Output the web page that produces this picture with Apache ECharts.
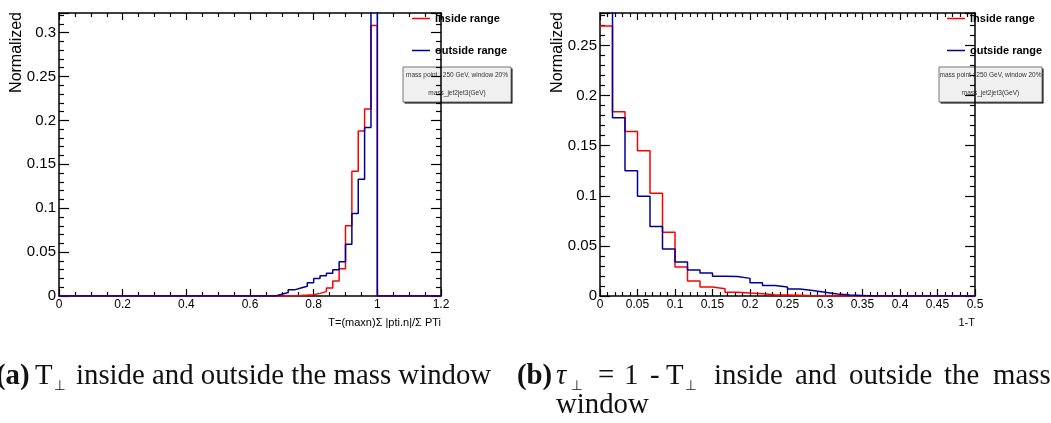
<!DOCTYPE html>
<html>
<head>
<meta charset="utf-8">
<script src="https://cdn.jsdelivr.net/npm/echarts@6/dist/echarts.min.js"></script>
<style>
  html, body { margin: 0; padding: 0; background: #fff; }
  #chart { width: 1051px; height: 423px; }
</style>
</head>
<body>
<div id="chart"></div>
<script>
// (a) T, 60 bins of 0.02 from 0 to 1.2
const binWidthA = 0.02;
const tInside = [
  0, 0, 0, 0, 0, 0, 0, 0, 0, 0,
  0, 0, 0, 0, 0, 0, 0, 0, 0, 0,
  0, 0, 0, 0, 0, 0, 0, 0, 0, 0,
  0, 0, 0, 0, 0, 0, 0.0003, 0.0006, 0.001, 0.0015,
  0.003, 0.005, 0.009, 0.017, 0.031, 0.080, 0.142, 0.188, 0.213, 0.308,
  0, 0, 0, 0, 0, 0, 0, 0, 0, 0
];
const tOutside = [
  0, 0, 0, 0, 0, 0, 0, 0, 0, 0,
  0, 0, 0, 0, 0, 0, 0, 0, 0, 0,
  0, 0, 0, 0, 0, 0, 0, 0, 0, 0,
  0, 0, 0, 0, 0.002, 0.004, 0.007, 0.009, 0.011, 0.015,
  0.020, 0.023, 0.026, 0.030, 0.039, 0.059, 0.094, 0.133, 0.192, 0.40,
  0, 0, 0, 0, 0, 0, 0, 0, 0, 0
];

// (b) 1-T, 30 bins of 1/60 from 0 to 0.5
const binWidthB = 0.5 / 30;
const tauInside = [
  0.2696, 0.184, 0.1643, 0.1451, 0.1026, 0.0637, 0.0289, 0.015, 0.009, 0.0073,
  0.0038, 0.003, 0.0023, 0.0013, 0.001, 0.0007, 0.0003, 0.0002, 0, 0,
  0, 0, 0, 0, 0, 0, 0, 0, 0, 0
];
const tauOutside = [
  0.31, 0.178, 0.125, 0.0996, 0.0694, 0.0468, 0.0339, 0.0259, 0.0229, 0.0196,
  0.0195, 0.0176, 0.0133, 0.0106, 0.009, 0.007, 0.0056, 0.0037, 0.002, 0.001,
  0.0005, 0, 0, 0, 0, 0, 0, 0, 0, 0
];

const seriesNames = ["inside range", "outside range"];
const boxLines = ["mass point : 250 GeV, window 20%", "mass_jet2jet3(GeV)"];

const RED = "#ff0000";
const BLUE = "#000099";

// histogram outline: a point at each low edge plus the last high edge
function stepData(values, width) {
  const pts = values.map((v, i) => [i * width, v]);
  pts.push([values.length * width, values[values.length - 1]]);
  return pts;
}

function yLabel(v) {
  const k = v / 0.05;
  if (Math.abs(k - Math.round(k)) > 1e-6) return "";
  return String(+v.toFixed(2));
}

function xAxisPair(gridIndex, max, interval, minorSplit) {
  const base = {
    gridIndex, type: "value", min: 0, max, interval,
    splitLine: { show: false },
    axisLine: { show: true, onZero: false, lineStyle: { color: "#000", width: 1.5 } },
    axisTick: { show: true, inside: true, length: 7, lineStyle: { color: "#000", width: 1.2 } },
    minorTick: { show: true, splitNumber: minorSplit, length: 4, lineStyle: { color: "#000", width: 1.2 } },
  };
  return [
    Object.assign({}, base, {
      position: "bottom",
      axisLabel: { fontFamily: "Liberation Sans", fontSize: 12, color: "#000", margin: 3 },
    }),
    Object.assign({}, base, { position: "top", axisLabel: { show: false } }),
  ];
}

function yAxisPair(gridIndex, max, minorSplit) {
  const base = {
    gridIndex, type: "value", min: 0, max, interval: 0.05,
    splitLine: { show: false },
    axisLine: { show: true, onZero: false, lineStyle: { color: "#000", width: 1.5 } },
    axisTick: { show: true, inside: true, length: 10, lineStyle: { color: "#000", width: 1.2 } },
    minorTick: { show: true, splitNumber: minorSplit, length: 5, lineStyle: { color: "#000", width: 1.2 } },
  };
  return [
    Object.assign({}, base, {
      position: "left",
      axisLabel: { fontFamily: "Liberation Sans", fontSize: 15, color: "#000", margin: 3, formatter: yLabel },
    }),
    Object.assign({}, base, { position: "right", axisLabel: { show: false } }),
  ];
}

function hist(name, values, width, color, xi, yi) {
  return {
    name, type: "line", step: "end", symbol: "none", clip: true,
    xAxisIndex: xi, yAxisIndex: yi,
    data: stepData(values, width),
    lineStyle: { color, width: 1.5 },
    itemStyle: { color },
    animation: false,
  };
}

function textBox(left, right) {
  const cx = (left + right) / 2;
  return {
    type: "group",
    children: [
      { type: "rect", shape: { x: left + 1.5, y: 68.5, width: right - left, height: 35 }, style: { fill: "#000" } },
      { type: "rect", shape: { x: left, y: 67, width: right - left, height: 35 }, style: { fill: "#f0f0f0", stroke: "#777", lineWidth: 1 } },
      { type: "text", x: cx, y: 75, style: { text: boxLines[0], align: "center", verticalAlign: "middle", fontFamily: "Liberation Sans", fontSize: 6.5, fill: "#333" } },
      { type: "text", x: cx, y: 93, style: { text: boxLines[1], align: "center", verticalAlign: "middle", fontFamily: "Liberation Sans", fontSize: 6.5, fill: "#333" } },
    ],
  };
}

function legendFor(left) {
  return {
    data: seriesNames, orient: "vertical", left, top: 8,
    icon: "rect", itemGap: 21, itemWidth: 18, itemHeight: 1.5,
    textStyle: { fontFamily: "Liberation Sans", fontWeight: "bold", fontSize: 11, color: "#000" },
    selectedMode: false,
  };
}

const serif = "Liberation Serif";
function cap(x, y, text, extra) {
  return {
    type: "text", x, y, scaleX: 0.96,
    style: Object.assign({ text, fontFamily: serif, fontSize: 30, fill: "#111", verticalAlign: "middle", align: "left" }, extra || {}),
  };
}

const chart = echarts.init(document.getElementById("chart"));
chart.setOption({
  backgroundColor: "#fff",
  animation: false,
  grid: [
    { left: 59, top: 13, width: 382, height: 283 },
    { left: 600, top: 13, width: 375, height: 283 },
  ],
  xAxis: [].concat(xAxisPair(0, 1.2, 0.2, 4), xAxisPair(1, 0.5, 0.05, 5)),
  yAxis: [].concat(yAxisPair(0, 0.3223, 5), yAxisPair(1, 0.2825, 5)),
  legend: [legendFor(407), legendFor(942)],
  series: [
    hist(seriesNames[0], tInside, binWidthA, RED, 0, 0),
    hist(seriesNames[1], tOutside, binWidthA, BLUE, 0, 0),
    hist(seriesNames[0], tauInside, binWidthB, RED, 2, 2),
    hist(seriesNames[1], tauOutside, binWidthB, BLUE, 2, 2),
  ],
  graphic: [
    textBox(403, 511),
    textBox(939, 1042),
    { type: "text", x: 17, y: 12, rotation: Math.PI / 2,
      style: { text: "Normalized", align: "right", verticalAlign: "middle", fontFamily: "Liberation Sans", fontSize: 16, fill: "#000" } },
    { type: "text", x: 558, y: 12, rotation: Math.PI / 2,
      style: { text: "Normalized", align: "right", verticalAlign: "middle", fontFamily: "Liberation Sans", fontSize: 16, fill: "#000" } },
    { type: "text", x: 441, y: 323,
      style: { text: "T=(maxn)Σ |pti.n|/Σ PTi", align: "right", verticalAlign: "middle", fontFamily: "Liberation Sans", fontSize: 11, fill: "#000" } },
    { type: "text", x: 975, y: 323,
      style: { text: "1-T", align: "right", verticalAlign: "middle", fontFamily: "Liberation Sans", fontSize: 11, fill: "#000" } },
    // subcaption (a)
    cap(-4, 376, "(a)", { fontWeight: "bold" }),
    cap(35, 376, "T"),
    cap(54, 386, "⊥", { fontSize: 14 }),
    cap(76, 376, "inside and outside the mass window"),
    // subcaption (b), justified line
    cap(517, 376, "(b)", { fontWeight: "bold" }),
    cap(556, 376, "τ", { fontStyle: "italic" }),
    cap(571, 386, "⊥", { fontSize: 14 }),
    cap(598, 376, "="),
    cap(624, 376, "1"),
    cap(650, 376, "-"),
    cap(666, 376, "T"),
    cap(685, 386, "⊥", { fontSize: 14 }),
    cap(714, 376, "inside"),
    cap(795, 376, "and"),
    cap(849, 376, "outside"),
    cap(944, 376, "the"),
    cap(993, 376, "mass"),
    cap(556, 405, "window"),
  ],
});
</script>
</body>
</html>
